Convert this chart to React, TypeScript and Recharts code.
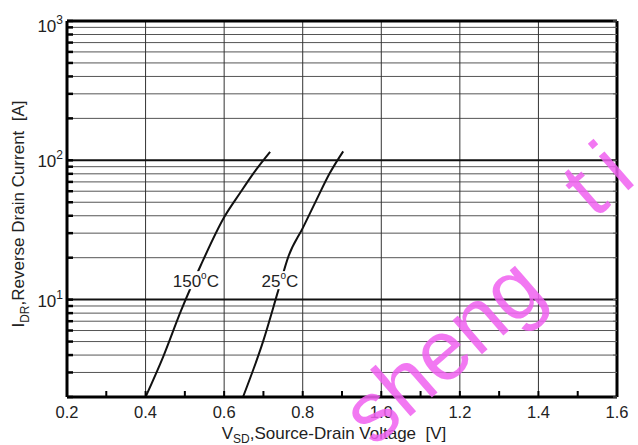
import { LineChart, Line, XAxis, YAxis, CartesianGrid, ReferenceLine, ReferenceDot } from 'recharts';

// 150°C curve
const vf150 = [0.40, 0.445, 0.49, 0.54, 0.60, 0.64, 0.675, 0.717];
const if150 = [2.0, 3.9, 8.3, 17.5, 39, 58, 81, 115];

// 25°C curve
const vf25 = [0.648, 0.70, 0.738, 0.763, 0.801, 0.835, 0.869, 0.903];
const if25 = [2.0, 5.1, 11.7, 20.2, 33, 52, 81, 116];

const xTicks = [0.2, 0.3, 0.4, 0.5, 0.6, 0.7, 0.8, 0.9, 1.0, 1.1, 1.2, 1.3, 1.4, 1.5, 1.6];
const xGrid = [0.4, 0.6, 0.8, 1.0, 1.2, 1.4];
const yTicks = [2, 3, 4, 5, 6, 7, 8, 9, 10, 20, 30, 40, 50, 60, 70, 80, 90, 100, 200, 300, 400, 500, 600, 700, 800, 900, 1000];
const yMinor = [2, 3, 4, 5, 6, 7, 8, 9, 20, 30, 40, 50, 60, 70, 80, 90, 200, 300, 400, 500, 600, 700, 800, 900];
const decades = [10, 100];

const curveLabels = [
    { deg: '150', v: 0.528, i: 13.8 },
    { deg: '25', v: 0.742, i: 13.8 },
];

const W = 638;
const H = 445;
const PLOT_LEFT = 67;
const PLOT_TOP = 21;
const PLOT_RIGHT = 617;
const PLOT_BOTTOM = 397;
const FONT = '"Liberation Sans", Arial, sans-serif';

const data150 = vf150.map((v, k) => ({ v, i: if150[k] }));
const data25 = vf25.map((v, k) => ({ v, i: if25[k] }));

function XTick(props: any) {
    const { x, payload } = props;
    const major = Math.round(payload.value * 10) % 2 === 0;
    return (
        <g>
            <line x1={x} x2={x} y1={PLOT_BOTTOM} y2={PLOT_BOTTOM - 6} stroke="#000" strokeWidth={2} />
            {major && (
                <text x={x} y={418} textAnchor="middle" fontSize={16.5} fill="#222" fontFamily={FONT}>
                    {payload.value.toFixed(1)}
                </text>
            )}
        </g>
    );
}

function YTickLeft(props: any) {
    const { y, payload } = props;
    const exp = Math.log10(payload.value);
    const isDecade = Math.abs(exp - Math.round(exp)) < 1e-9;
    const ty = y < PLOT_TOP + 5 ? y + 11 : y + 7;
    return (
        <g>
            <line x1={PLOT_LEFT} x2={PLOT_LEFT + 6} y1={y} y2={y} stroke="#000" strokeWidth={2.5} />
            {isDecade && (
                <text x={63} y={ty} textAnchor="end" fontSize={17} fill="#222" fontFamily={FONT}>
                    10<tspan dy={-8} fontSize={12}>{Math.round(exp)}</tspan>
                </text>
            )}
        </g>
    );
}

function YTickRight(props: any) {
    const { y } = props;
    return <line x1={PLOT_RIGHT} x2={PLOT_RIGHT - 4} y1={y} y2={y} stroke="#666" strokeWidth={1} />;
}

function CurveLabel(props: any) {
    const { cx, cy, deg } = props;
    const w = deg.length === 3 ? 48 : 36;
    return (
        <g>
            <rect x={cx - w / 2} y={cy - 9} width={w} height={18} fill="#fff" />
            <text x={cx} y={cy + 7} textAnchor="middle" fontSize={17} fill="#222" fontFamily={FONT}>
                {deg}
                <tspan dy={-8} fontSize={10}>o</tspan>
                <tspan dy={8}>C</tspan>
            </text>
        </g>
    );
}

export default function App() {
    return (
        <div style={{ position: 'absolute', left: 0, top: 0, width: W, height: H, background: '#fff' }}>
            <LineChart width={W} height={H} margin={{ top: PLOT_TOP, right: 0, bottom: 0, left: 0 }}>
                <CartesianGrid yAxisId="left" vertical={false} horizontal={false} />
                <XAxis
                    dataKey="v"
                    type="number"
                    domain={[0.2, 1.6]}
                    ticks={xTicks}
                    interval={0}
                    allowDataOverflow
                    height={H - PLOT_BOTTOM}
                    axisLine={{ stroke: '#000', strokeWidth: 3 }}
                    tickLine={false}
                    tick={<XTick />}
                />
                <YAxis
                    yAxisId="left"
                    dataKey="i"
                    type="number"
                    scale="log"
                    domain={[2, 1000]}
                    ticks={yTicks}
                    interval={0}
                    allowDataOverflow
                    width={PLOT_LEFT}
                    axisLine={{ stroke: '#000', strokeWidth: 3 }}
                    tickLine={false}
                    tick={<YTickLeft />}
                />
                <YAxis
                    yAxisId="right"
                    orientation="right"
                    type="number"
                    scale="log"
                    domain={[2, 1000]}
                    ticks={yTicks}
                    interval={0}
                    allowDataOverflow
                    width={W - PLOT_RIGHT}
                    axisLine={{ stroke: '#000', strokeWidth: 3 }}
                    tickLine={false}
                    tick={<YTickRight />}
                />
                {yMinor.map((m) => (
                    <ReferenceLine key={'my' + m} yAxisId="left" y={m} stroke="#555" strokeWidth={1} />
                ))}
                {xGrid.map((v) => (
                    <ReferenceLine key={'vx' + v} yAxisId="left" x={v} stroke="#333" strokeWidth={1} />
                ))}
                {decades.map((d) => (
                    <ReferenceLine key={'dy' + d} yAxisId="left" y={d} stroke="#111" strokeWidth={2} />
                ))}
                <ReferenceLine yAxisId="left" y={1000} stroke="#000" strokeWidth={3} />
                <Line yAxisId="left" data={data150} dataKey="i" type="monotone" stroke="#111" strokeWidth={2} dot={false} isAnimationActive={false} />
                <Line yAxisId="left" data={data25} dataKey="i" type="monotone" stroke="#111" strokeWidth={2} dot={false} isAnimationActive={false} />
                {curveLabels.map((c) => (
                    <ReferenceDot
                        key={c.deg}
                        yAxisId="left"
                        x={c.v}
                        y={c.i}
                        r={0}
                        shape={(p: any) => <CurveLabel {...p} deg={c.deg} />}
                    />
                ))}
            </LineChart>
            <svg width={W} height={H} style={{ position: 'absolute', left: 0, top: 0, pointerEvents: 'none' }}>
                <text
                    transform="translate(24,214) rotate(-90)"
                    textAnchor="middle"
                    fontSize={17}
                    fill="#222"
                    fontFamily={FONT}
                    style={{ whiteSpace: 'pre' }}
                >
                    I<tspan dy={5} fontSize={12}>DR</tspan><tspan dy={-5}>,Reverse Drain Current  [A]</tspan>
                </text>
                <text x={334} y={439} textAnchor="middle" fontSize={17} fill="#222" fontFamily={FONT} style={{ whiteSpace: 'pre' }}>
                    V<tspan dy={4} fontSize={12}>SD</tspan><tspan dy={-4}>,Source-Drain Voltage  [V]</tspan>
                </text>
                <g fill="#f060f0" fillOpacity={0.85} fontFamily={FONT} fontSize={85}>
                    <text transform="translate(374,448) rotate(-41)">sheng</text>
                    <text transform="translate(594,220) rotate(-41)" letterSpacing={16}>ti</text>
                </g>
            </svg>
        </div>
    );
}
